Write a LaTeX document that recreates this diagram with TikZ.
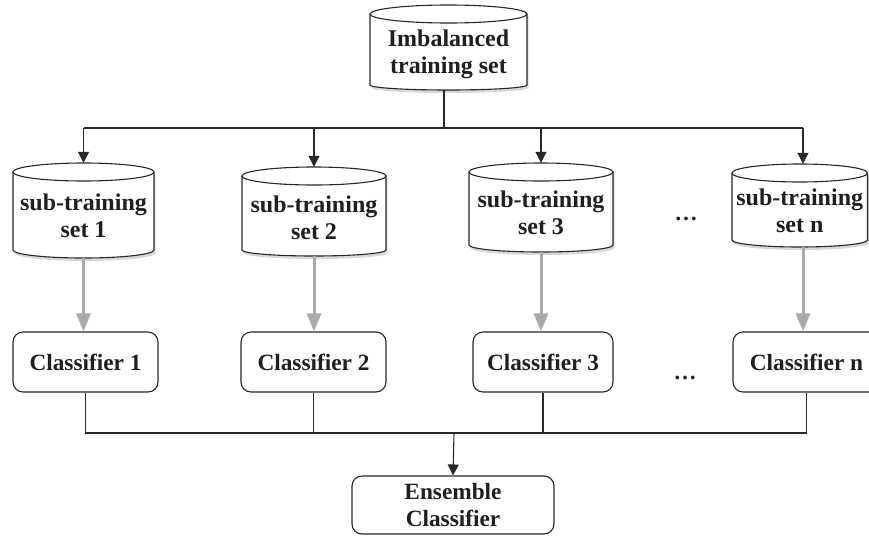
\documentclass[tikz,border=0pt]{standalone}
\usepackage{fontspec}
\setmainfont{Liberation Serif}
\usetikzlibrary{arrows.meta,shadows}
\definecolor{ln}{RGB}{40,40,40}
\definecolor{garr}{RGB}{170,170,170}
\tikzset{
  lbl/.style={font=\bfseries\fontsize{24}{27}\selectfont, align=center, inner sep=0pt, text=black!88},
  cylshape/.style={draw=ln, line width=1.1pt, fill=white, drop shadow={shadow xshift=1.5pt, shadow yshift=-3pt, opacity=0.3}},
  clsbox/.style={draw=ln, line width=1.1pt, rounded corners=10pt, minimum height=60pt, inner sep=0pt, align=center, font=\bfseries\fontsize{23.3}{27}\selectfont, text=black!88},
  conn/.style={draw=ln, line width=1.1pt},
  blackarr/.style={conn, -{Triangle[width=11pt,length=11pt]}},
  grayarr/.style={draw=garr, line width=3pt, -{Triangle[width=14pt,length=18pt]}},
  dotslbl/.style={font=\bfseries\fontsize{23}{27}\selectfont, inner sep=0pt, text=black!88}
}
\newcommand\mycyl[7]{%
  \pgfmathsetmacro\myCx{(#2+#3)/2}%
  \pgfmathsetmacro\myRx{(#3-#2)/2}%
  \pgfmathsetmacro\myTy{-(#4+9)}%
  \pgfmathsetmacro\myRb{#6-#5}%
  \pgfmathsetmacro\myCy{-(#4+#6)/2}%
  \pgfmathsetmacro\myLy{-(#4+18+#5)/2}%
  \pgfmathsetmacro\myHh{#6-#4}%
  \pgfmathsetmacro\myWw{#3-#2}%
  \path[cylshape] (#2,\myTy) -- (#2,-#5) arc[start angle=180,end angle=360,x radius=\myRx,y radius=\myRb] -- (#3,\myTy) arc[start angle=0,end angle=180,x radius=\myRx,y radius=9] -- cycle;
  \draw[conn] (#2,\myTy) arc[start angle=180,end angle=360,x radius=\myRx,y radius=9];
  \node[minimum width=\myWw pt, minimum height=\myHh pt, inner sep=0pt] (#1) at (\myCx,\myCy) {};
  \node[lbl] (#1t) at (\myCx,\myLy) {#7};
}
\begin{document}
\begin{tikzpicture}[x=1pt,y=1pt]
\useasboundingbox (0,0) rectangle (869,-536);
\fill[white] (0,0) rectangle (869,-536);

% cylinders
\mycyl{top}{370}{527}{5}{85}{90}{Imbalanced\\training set}
\mycyl{s1}{13}{154}{163}{250}{258}{sub-training\\set 1}
\mycyl{s2}{242}{386}{167}{250}{256}{sub-training\\set 2}
\mycyl{s3}{469}{613}{163}{245}{252}{sub-training\\set 3}
\mycyl{sn}{732}{867.5}{164}{240}{247}{sub-training\\set n}

% classifiers
\node[clsbox, minimum width=145pt] (c1) at (85.5,-362) {Classifier 1};
\node[clsbox, minimum width=145pt] (c2) at (313.5,-362) {Classifier 2};
\node[clsbox, minimum width=140pt] (c3) at (543,-362) {Classifier 3};
\node[clsbox, minimum width=147pt] (cn) at (806.5,-362) {Classifier n};
\node[clsbox, minimum width=202pt, minimum height=58pt] (ens) at (453,-505) {Ensemble\\Classifier};

% dots
\node[dotslbl] (d1) at (686,-219) {…};
\node[dotslbl] (d2) at (685,-378) {…};

% junctions
\coordinate (tb) at (444,-128);
\coordinate (eb) at (454,-433);
\coordinate (snx) at (803,-128);

% top distribution
\draw[conn] (top.south -| tb) -- (tb);
\draw[conn] (s1.north |- tb) -- (snx);
\draw[blackarr] (s1.north |- tb) -- (s1.north);
\draw[blackarr] (s2.north |- tb) -- (s2.north);
\draw[blackarr] (s3.north |- tb) -- (s3.north);
\draw[blackarr] (snx) -- (snx |- sn.north);

% gray arrows
\draw[grayarr] (s1.south) -- (s1.south |- c1.north);
\draw[grayarr] (s2.south) -- (s2.south |- c2.north);
\draw[grayarr] (s3.south) -- (s3.south |- c3.north);
\draw[grayarr] (snx |- sn.south) -- (snx |- cn.north);

% bottom collection
\draw[conn] (c1.south) -- (c1.south |- eb) -- (cn.south |- eb) -- (cn.south);
\draw[conn] (c2.south) -- (c2.south |- eb);
\draw[conn] (c3.south) -- (c3.south |- eb);
\draw[blackarr] (eb) -- (ens.north);
\end{tikzpicture}
\end{document}
